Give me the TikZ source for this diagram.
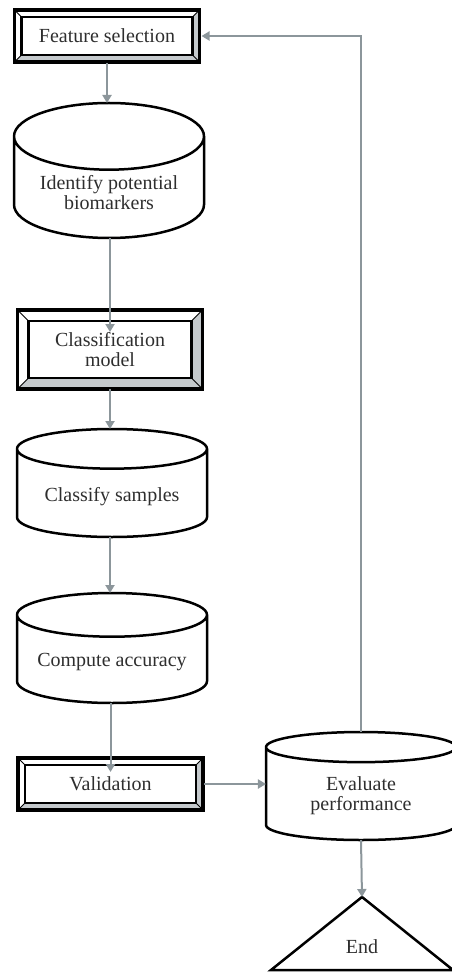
\documentclass[tikz,border=0pt]{standalone}
\usepackage{fontspec}
\setmainfont{Liberation Serif}
\usetikzlibrary{arrows.meta,calc,positioning,shapes.geometric}
\definecolor{flowArrow}{HTML}{8C969B}
\definecolor{flowBevel}{HTML}{C4C9CC}
\definecolor{flowText}{HTML}{2E2E2E}
\newcommand{\bevelframe}[2]{%
  \fill[flowBevel] ($(#1.north east)+(#2,-#2)$) -- ($(#1.south east)+(#2,#2)$) -- ($(#1.south west)+(-#2,#2)$) -- (#1.south west) -- (#1.south east) -- (#1.north east) -- cycle;
  \draw[line width=1pt] (#1.north west) -- ++(-#2,-#2) (#1.north east) -- ++(#2,-#2) (#1.south west) -- ++(-#2,#2) (#1.south east) -- ++(#2,#2);
  \draw[line width=2.5pt] (#1.north west) rectangle (#1.south east);
  \draw[line width=3.5pt] ($(#1.north west)+(-#2,-#2)$) rectangle ($(#1.south east)+(#2,#2)$);
}

\begin{document}
\begin{tikzpicture}[x=1pt,y=-1pt, every node/.style={font=\fontsize{20}{20}\selectfont, text=flowText},
    box/.style={rectangle, outer sep=0pt, align=center},
    drum/.style={cylinder, shape border rotate=90, draw, line width=2.5pt, align=center, minimum width=190pt, outer sep=0pt, anchor=north},
    flow/.style={draw=flowArrow, line width=2pt, -{Triangle[length=8pt,width=9pt]}}]
  \useasboundingbox (0,0) rectangle (451,973);
  \node[box, minimum width=171pt, minimum height=38pt] (fsel) at (107,36) {Feature selection};
  \bevelframe{fsel}{7}
  \node[drum, minimum height=135pt, shape aspect=.46] (ident) at (109,103) {Identify potential\\biomarkers};
  \node[box, minimum width=163pt, minimum height=57pt] (clsmod) at (110,349.5) {Classification\\model};
  \bevelframe{clsmod}{11}
  \node[drum, minimum height=108pt, shape aspect=.28] (clsamp) at (112,429) {Classify samples};
  \node[drum, minimum height=110pt, shape aspect=.28] (compacc) at (112,593) {Compute accuracy};
  \node[box, minimum width=171pt, minimum height=38pt] (valid) at (110.5,784) {Validation};
  \bevelframe{valid}{7}
  \node[drum, minimum height=108pt, shape aspect=.28] (evalp) at (361,732) {Evaluate\\performance};
  \coordinate (endtop) at (362,897);
  \draw[line width=2.5pt] (endtop) -- (271,970) -- (453,970) -- cycle;
  \node (endlbl) at (362,947) {End};

  \draw[flow, shorten <=8pt] (fsel.south) -- (fsel.south |- ident.north);
  \draw[flow] (ident.south -| clsmod.north) -- ([yshift=-11pt]clsmod.north);
  \draw[flow, shorten <=11pt] (clsmod.south) -- (clsmod.south |- clsamp.north);
  \draw[flow] (clsamp.south -| clsmod.south) -- (clsmod.south |- compacc.north);
  \draw[flow] (compacc.south -| valid.north) -- ([yshift=-7pt]valid.north);
  \draw[flow, shorten <=8pt] (valid.east) -- (valid.east -| evalp.west);
  \draw[flow] (evalp.north) |- ([xshift=9pt]fsel.east);
  \draw[flow] (evalp.south) -- (endtop);
\end{tikzpicture}
\end{document}
